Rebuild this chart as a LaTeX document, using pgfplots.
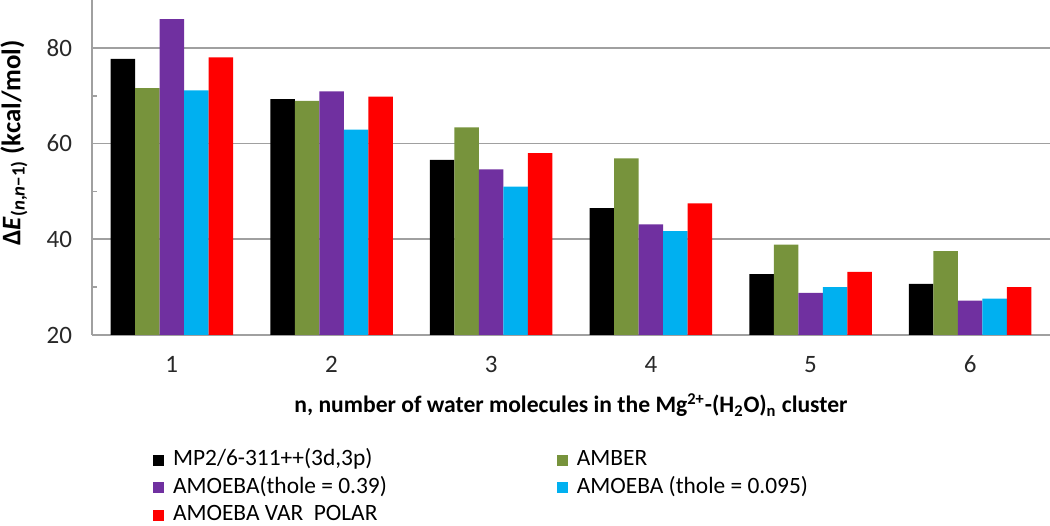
\documentclass[border=0pt]{standalone}
\usepackage{pgfplots}
\pgfplotsset{compat=1.18}
\usepackage{fontspec}
\setmainfont{Carlito}
\definecolor{cgreen}{RGB}{119,147,60}
\definecolor{cpurple}{RGB}{112,48,160}
\definecolor{cblue}{RGB}{0,176,240}
\definecolor{cred}{RGB}{255,0,0}
\definecolor{gridgray}{RGB}{160,160,160}
\definecolor{ticktext}{RGB}{40,40,40}
\begin{document}
\begin{tikzpicture}
\begin{axis}[
  name=ax,
  scale only axis,
  width=479pt, height=167.5pt,
  ybar=0pt, bar width=12.25pt,
  xmin=0.5, xmax=6.5, ymin=20, ymax=90,
  xtick={1,2,3,4,5,6},
  ytick={20,40,60,80}, minor ytick={30,50,70},
  ymajorgrids, major grid style={gridgray, line width=0.9pt},
  axis x line*=bottom, axis y line*=left,
  axis line style={gridgray, line width=0.9pt, -},
  x tick style={draw=none},
  y tick style={gridgray, line width=0.8pt},
  tick align=inside,
  major tick length=0pt, minor tick length=2.5pt,
  /pgf/number format/assume math mode=true,
  tick label style={font=\fontsize{12.5}{14}\selectfont, text=ticktext},
  yticklabel style={xshift=-6.5pt},
  xticklabel style={yshift=-7pt},
  xlabel={n, number of water molecules in the Mg\textsuperscript{2+}-(H\textsubscript{2}O)\textsubscript{n} cluster},
  xlabel style={font=\bfseries\fontsize{11.8}{13}\selectfont, at={(axis description cs:0.5,-0.209)}, anchor=center},
  ylabel={Δ\textit{E}\textsubscript{(\textit{n},\textit{n}−1)} (kcal/mol)},
  ylabel style={font=\bfseries\fontsize{13.4}{15}\selectfont, at={(axis description cs:-0.0814,0.573)}, anchor=center},
  legend columns=2,
  legend image code/.code={\fill[#1] (0pt,-2.75pt) rectangle (5.5pt,2.75pt);},
  legend style={
    at={(axis description cs:0.0637,-0.342)}, anchor=north west,
    draw=none, fill=none, inner sep=0pt, outer sep=0pt,
    font=\fontsize{11.7}{13}\selectfont,
    nodes={inner sep=0pt, anchor=west, text height=8pt, text depth=2.5pt},
    row sep=3.25pt,
    /tikz/every odd column/.append style={column sep=4.5pt},
    /tikz/every even column/.append style={column sep=85pt},
  },
]
\addplot[fill=black, draw=none] coordinates {(1,77.7) (2,69.3) (3,56.6) (4,46.5) (5,32.7) (6,30.7)};
\addplot[fill=cgreen, draw=none] coordinates {(1,71.6) (2,68.9) (3,63.4) (4,56.9) (5,38.9) (6,37.5)};
\addplot[fill=cpurple, draw=none] coordinates {(1,86.0) (2,70.9) (3,54.6) (4,43.1) (5,28.8) (6,27.2)};
\addplot[fill=cblue, draw=none] coordinates {(1,71.1) (2,62.9) (3,51.0) (4,41.7) (5,30.0) (6,27.6)};
\addplot[fill=cred, draw=none] coordinates {(1,78.0) (2,69.8) (3,58.0) (4,47.5) (5,33.2) (6,30.0)};
\legend{{MP2/6-311++(3d,3p)}, AMBER, AMOEBA(thole = 0.39), AMOEBA (thole = 0.095), AMOEBA VAR\ \ POLAR}
\end{axis}
\pgfresetboundingbox
\path (ax.south west) ++(-46pt,-95.5pt) rectangle (ax.north east);
\end{tikzpicture}
\end{document}
